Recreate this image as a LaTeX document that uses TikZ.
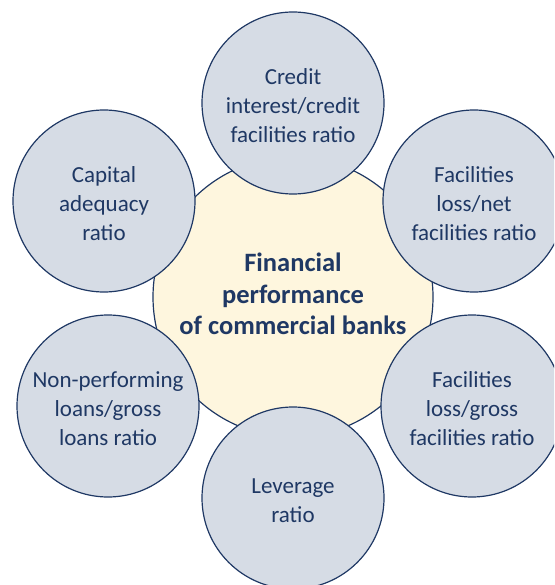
\documentclass[tikz,border=0pt]{standalone}
\usepackage{fontspec}
\setmainfont{Carlito}
\definecolor{navy}{HTML}{1F3864}
\definecolor{outerfill}{HTML}{D6DCE5}
\definecolor{centerfill}{HTML}{FEF6DE}
\tikzset{
  hub/.style={circle, draw=navy, line width=1.2pt, fill=centerfill, minimum size=280pt, inner sep=0pt},
  hubtext/.style={align=center, text=navy, inner sep=0pt, font=\bfseries\fontsize{26.5}{31.5}\selectfont, yshift=3pt},
  ratio/.style={circle, draw=navy, line width=1.2pt, fill=outerfill, minimum size=182pt, inner sep=0pt},
  ratiotext/.style={align=center, text=navy, inner sep=0pt, font=\fontsize{23}{29}\selectfont, yshift=-2.5pt}
}
\begin{document}
\begin{tikzpicture}[x=1pt,y=-1pt]
\useasboundingbox (0,0) rectangle (554,585);
\clip (0,0) rectangle (554,585);
\node[hub, label={[hubtext]center:{Financial\\performance\\of commercial banks}}] (c) at (293,297) {};
\node[ratio, label={[ratiotext]center:{Credit\\interest/credit\\facilities ratio}}] (t) at (293,103) {};
\node[ratio, label={[ratiotext]center:{Capital\\adequacy\\ratio}}] (cap) at (104,201) {};
\node[ratio, label={[ratiotext]center:{Facilities\\loss/net\\facilities ratio}}] (fn) at (474,201) {};
\node[ratio, label={[ratiotext]center:{Non-performing\\loans/gross\\loans ratio}}] (np) at (108,406) {};
\node[ratio, label={[ratiotext]center:{Facilities\\loss/gross\\facilities ratio}}] (fg) at (472,406) {};
\node[ratio, label={[ratiotext]center:{Leverage\\ratio}}] (lev) at (293,498) {};
\end{tikzpicture}
\end{document}
